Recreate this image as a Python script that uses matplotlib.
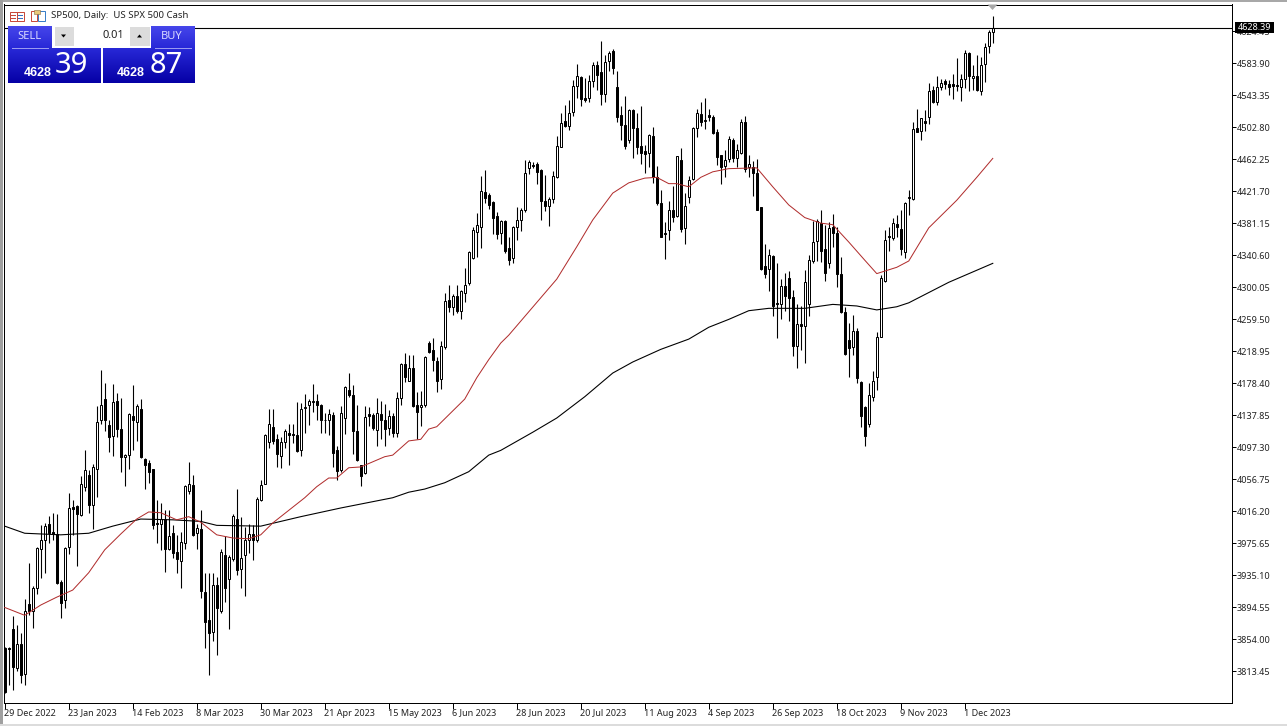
import matplotlib
matplotlib.use("Agg")
import matplotlib.pyplot as plt
from matplotlib.patches import Rectangle, Polygon
from matplotlib.transforms import ScaledTranslation
import numpy as np

# Daily candles
opens = [3843,3843,3867,3817,3848,3810,3898,3889,3918,3968,
         3979,4000,3990,3987,3926,3904,3970,4021,4023,4011,
         4046,4062,4024,4070,4131,4158,4125,4111,4155,4120,
         4084,4087,4137,4129,4146,4082,4077,4069,4001,4000,
         4006,3968,3988,3964,3953,3976,4042,4049,3988,3993,
         3913,3878,3863,3922,3890,3961,3930,3956,4006,3943,
         3961,3980,3987,3979,4030,4050,4103,4123,4107,4086,
         4104,4115,4114,4113,4093,4147,4151,4154,4156,4150,
         4132,4131,4138,4093,4068,4134,4170,4163,4118,4074,
         4064,4139,4138,4119,4139,4131,4121,4137,4115,4159,
         4203,4181,4198,4151,4148,4150,4229,4220,4206,4183,
         4224,4283,4275,4289,4270,4293,4305,4337,4370,4376,
         4421,4417,4408,4390,4369,4384,4350,4337,4376,4385,
         4397,4451,4455,4456,4448,4409,4403,4412,4439,4478,
         4510,4504,4522,4555,4566,4539,4540,4561,4581,4572,
         4545,4587,4599,4553,4518,4505,4486,4524,4501,4479,
         4472,4470,4492,4440,4407,4368,4372,4398,4390,4461,
         4375,4414,4437,4501,4519,4510,4518,4516,4496,4467,
         4453,4462,4486,4464,4470,4509,4452,4452,4445,4401,
         4327,4323,4339,4280,4279,4301,4312,4287,4225,4253,
         4251,4278,4333,4358,4381,4348,4330,4376,4368,4317,
         4268,4233,4224,4244,4180,4148,4127,4161,4186,4237,
         4308,4365,4362,4380,4374,4345,4413,4412,4501,4498,
         4510,4515,4550,4534,4553,4561,4557,4557,4556,4554,
         4563,4597,4565,4567,4549,4583,4606,4623]
closes = [3787,3841,3819,3848,3808,3890,3889,3918,3969,3980,
          3997,3988,3987,3925,3900,3969,4020,4019,4012,4051,
          4068,4024,4072,4129,4150,4131,4110,4154,4120,4085,
          4087,4139,4131,4149,4084,4075,4065,3999,4000,4006,
          3968,3985,3963,3956,3977,4048,4050,3986,3995,3915,
          3876,3862,3922,3893,3964,3918,3958,4010,3941,3957,
          3980,3987,3979,4031,4049,4112,4127,4105,4088,4104,
          4117,4113,4113,4092,4145,4148,4155,4156,4151,4132,
          4131,4139,4090,4067,4141,4173,4163,4118,4081,4060,
          4135,4137,4121,4140,4132,4120,4137,4115,4160,4203,
          4186,4198,4149,4142,4150,4211,4218,4207,4181,4225,
          4282,4275,4288,4270,4295,4302,4345,4372,4379,4422,
          4413,4404,4388,4367,4384,4346,4334,4376,4385,4397,
          4445,4458,4453,4446,4409,4403,4412,4441,4479,4508,
          4504,4521,4555,4568,4538,4537,4561,4581,4569,4544,
          4585,4596,4578,4515,4505,4479,4524,4501,4477,4470,
          4468,4493,4439,4406,4364,4367,4397,4389,4466,4374,
          4403,4436,4502,4520,4509,4512,4515,4495,4465,4452,
          4461,4487,4463,4473,4509,4450,4456,4445,4398,4323,
          4317,4340,4276,4279,4301,4288,4286,4225,4253,4251,
          4307,4334,4357,4384,4346,4318,4375,4369,4317,4268,
          4215,4223,4244,4185,4136,4111,4163,4181,4237,4312,
          4359,4363,4381,4376,4348,4407,4414,4500,4497,4514,
          4508,4548,4535,4554,4559,4557,4553,4555,4555,4564,
          4596,4567,4568,4550,4581,4604,4623,4628.39]
highs = [3844,3844,3883,3872,3861,3905,3950,3921,3971,3998,
         4001,4010,4014,4013,3929,3971,4039,4030,4024,4061,
         4094,4068,4076,4149,4195,4179,4131,4177,4166,4159,
         4089,4141,4176,4152,4158,4083,4081,4070,4030,4026,
         4018,4017,3998,3986,3989,4049,4078,4062,4000,4017,
         3937,3938,3937,3932,3968,3984,3960,4013,4044,4009,
         3996,4000,3998,4034,4055,4114,4145,4145,4114,4110,
         4120,4127,4127,4154,4153,4165,4158,4177,4165,4152,
         4141,4145,4142,4098,4149,4175,4191,4176,4151,4075,
         4149,4148,4141,4160,4156,4152,4144,4140,4167,4204,
         4216,4214,4214,4167,4168,4213,4232,4236,4211,4232,
         4292,4303,4291,4303,4296,4324,4346,4376,4394,4441,
         4448,4419,4409,4395,4385,4385,4363,4377,4402,4400,
         4461,4461,4458,4458,4449,4442,4414,4447,4492,4520,
         4531,4537,4562,4583,4567,4565,4569,4585,4587,4612,
         4594,4599,4601,4574,4529,4542,4526,4525,4520,4529,
         4480,4494,4503,4453,4423,4383,4409,4428,4466,4476,
         4419,4441,4503,4525,4534,4540,4526,4518,4500,4467,
         4474,4492,4489,4481,4513,4517,4467,4460,4462,4401,
         4355,4348,4340,4330,4310,4318,4320,4296,4279,4276,
         4322,4341,4384,4386,4397,4379,4383,4393,4376,4338,
         4275,4255,4265,4248,4181,4149,4178,4194,4243,4315,
         4372,4376,4387,4391,4397,4408,4423,4509,4526,4514,
         4524,4558,4555,4568,4563,4564,4562,4570,4590,4570,
         4600,4598,4581,4594,4591,4609,4626,4643]
lows = [3785,3796,3789,3813,3798,3796,3884,3868,3911,3931,
        3937,3976,3979,3924,3881,3893,3962,3986,3946,4010,
        4041,4014,3993,4034,4127,4118,4091,4086,4110,4066,
        4048,4069,4093,4105,4083,4044,4052,3994,3976,3967,
        3939,3967,3957,3938,3919,3968,4038,3985,3968,3906,
        3843,3808,3852,3834,3887,3901,3867,3953,3935,3919,
        3908,3963,3954,3977,4029,4050,4096,4101,4072,4071,
        4096,4074,4102,4091,4086,4115,4125,4142,4132,4115,
        4115,4112,4072,4055,4066,4114,4161,4089,4079,4048,
        4063,4124,4119,4099,4107,4099,4112,4110,4110,4150,
        4180,4181,4148,4107,4124,4148,4217,4194,4167,4171,
        4222,4268,4264,4267,4259,4281,4303,4336,4338,4349,
        4406,4399,4367,4361,4355,4343,4328,4331,4360,4371,
        4395,4443,4451,4431,4385,4396,4377,4407,4438,4478,
        4503,4499,4517,4539,4530,4534,4535,4554,4550,4531,
        4535,4574,4570,4509,4486,4475,4483,4464,4469,4456,
        4444,4452,4432,4404,4363,4336,4360,4383,4389,4370,
        4355,4406,4436,4490,4504,4500,4511,4494,4454,4430,
        4439,4458,4458,4452,4469,4446,4439,4415,4397,4321,
        4311,4295,4263,4236,4260,4269,4257,4213,4198,4220,
        4204,4263,4330,4333,4332,4308,4324,4351,4300,4267,
        4214,4186,4214,4178,4123,4098,4123,4155,4170,4237,
        4306,4346,4360,4364,4341,4337,4391,4410,4496,4486,
        4498,4507,4533,4531,4550,4551,4543,4538,4548,4536,
        4552,4548,4550,4548,4543,4560,4597,4609]

# Moving averages, read at the bars where the curve bends
ma_red_bars = [0,5,9,13,17,21,25,29,33,36,39,43,46,49,53,57,61,64,67,75,78,81,83,86,89,95,97,
               101,104,106,108,115,118,121,124,126,138,143,147,152,156,160,163,166,168,171,
               174,177,181,188,192,196,200,204,207,211,215,218,223,226,231,238,243,247]
ma_red = [3894,3884,3897,3907,3916,3938,3967,3987,4006,4015,4014,4005,4009,4002,3986,3982,3981,3986,4001,
          4033,4047,4058,4058,4071,4072,4085,4087,4105,4107,4120,4123,4158,4185,4208,4229,4239,
          4310,4351,4385,4419,4432,4438,4439,4431,4431,4427,4439,4446,4450,4451,4427,4404,4388,
          4381,4379,4357,4334,4317,4325,4333,4375,4410,4439,4463]
ma_black_bars = [0,5,14,21,27,34,42,49,53,64,74,84,95,97,101,105,110,116,121,124,132,138,145,152,
                 157,164,171,176,181,186,191,200,207,213,218,223,226,236,247]
ma_black = [3997,3988,3986,3988,3997,4006,4005,4003,3998,3997,4009,4020,4031,4033,4040,4044,4052,4066,
            4087,4093,4116,4134,4161,4191,4205,4221,4234,4249,4259,4270,4273,4273,4278,4276,4271,
            4275,4280,4306,4330]

price_ticks = [4624.45,4583.90,4543.35,4502.80,4462.25,4421.70,4381.15,4340.60,4300.05,4259.50,4218.95,
               4178.40,4137.85,4097.30,4056.75,4016.20,3975.65,3935.10,3894.55,3854.00,3813.45]
date_labels = ["29 Dec 2022","23 Jan 2023","14 Feb 2023","8 Mar 2023","30 Mar 2023","21 Apr 2023",
               "15 May 2023","6 Jun 2023","28 Jun 2023","20 Jul 2023","11 Aug 2023","4 Sep 2023",
               "26 Sep 2023","18 Oct 2023","9 Nov 2023","1 Dec 2023"]
last_price = 4628.39

plt.rcParams['font.family'] = ['Noto Sans', 'DejaVu Sans']
W, H = 1287, 726
fig = plt.figure(figsize=(W/100, H/100), dpi=100)
px = 0.72  # one pixel, in points

# Main chart
ax = fig.add_axes([4/W, (H-703)/H, 1228/W, 698.5/H])
ax.set_xlim(-0.175, 306.8)
ax.set_ylim(3772.9, 4658)

bars = np.arange(len(opens))
o, c = np.array(opens), np.array(closes)
up = c >= o
ax.vlines(bars, lows, highs, color='k', lw=1.1*px, zorder=2)
ax.bar(bars, np.abs(c-o), bottom=np.minimum(o, c), width=0.5,
       color=np.where(up, 'white', 'black').tolist(), edgecolor='k', linewidth=px, zorder=3)
ax.plot(ma_black_bars, ma_black, color='k', lw=1.1*px, zorder=4)
ax.plot(ma_red_bars, ma_red, color='#b02c2c', lw=1.0*px, zorder=4)
ax.axhline(last_price, color='k', lw=1.1*px, zorder=5)

ax.yaxis.tick_right()
ax.set_yticks(price_ticks)
ax.set_yticklabels(["%.2f" % p for p in price_ticks])
ax.set_xticks(bars[::16])
ax.set_xticklabels(date_labels, ha='left')
ax.tick_params(axis='y', length=3, width=px, pad=0.4, labelsize=6.5, labelcolor='#222222')
ax.tick_params(axis='x', length=4, width=px, pad=0, labelsize=6.5, labelcolor='#222222')
for lab in ax.get_xticklabels():
    lab.set_transform(lab.get_transform() + ScaledTranslation(-1/100, 0, fig.dpi_scale_trans))
for lab in ax.get_yticklabels():
    lab.set_transform(lab.get_transform() + ScaledTranslation(0, 1/100*-1, fig.dpi_scale_trans))
for s in ax.spines.values():
    s.set_linewidth(px)

# Terminal window parts, in pixels
ov = fig.add_axes([0, 0, 1, 1], zorder=10)
ov.set_xlim(0, W)
ov.set_ylim(H, 0)
ov.axis('off')
ov.patch.set_alpha(0)

ov.add_patch(Rectangle((0, 0), W, 2, color='#a8a8a8', lw=0))
ov.add_patch(Rectangle((0, 0), 2.5, H, color='#a0a0a0', lw=0))
ov.add_patch(Rectangle((0, 724), W, 2, color='#dcdcdc', lw=0))
ov.add_patch(Polygon([(987.5, 4.5), (997.5, 4.5), (992.5, 10)], color='#a8a8a8', lw=0))

# Price label on the axis
ov.add_patch(Rectangle((1235, 22), 39, 11, color='k', lw=0))
ov.text(1254.5, 27.5, "%.2f" % last_price, color='white', fontsize=6.5, ha='center', va='center')

# Title and its two icons
ov.text(51, 15, "SP500, Daily:  US SPX 500 Cash", fontsize=6.9, va='center', color='#222222')
ov.add_patch(Rectangle((9.5, 11.5), 14, 9, fc='white', ec='#c84a3c', lw=px))
ov.plot([16.5, 16.5], [11.5, 20.5], color='#c84a3c', lw=px)
for yy in (14.5, 17.5):
    ov.plot([11, 15], [yy, yy], color='#c84a3c', lw=px)
    ov.plot([18, 22], [yy, yy], color='#3a6fc0', lw=px)
ov.add_patch(Rectangle((30.5, 11), 6.5, 10, fc='white', ec='#c84a3c', lw=px))
ov.add_patch(Rectangle((38, 11), 6.5, 10, fc='white', ec='#3a7fc8', lw=px))
ov.add_patch(Rectangle((34, 10), 6, 4, fc='#e8c87a', ec='#806030', lw=0.5*px))

# One click trading panel
grad = np.linspace(0, 1, 64).reshape(-1, 1)
def blue_box(x0, x1, y0, y1, top, bottom):
    rgb = np.array(top)*(1-grad[:, :, None]) + np.array(bottom)*grad[:, :, None]
    ov.imshow(rgb/255, extent=(x0, x1, y1, y0), aspect='auto', zorder=3)

blue_box(8, 52, 26, 48, (70, 70, 235), (40, 40, 215))
blue_box(151, 195, 26, 48, (70, 70, 235), (40, 40, 215))
blue_box(8, 101, 48, 83, (40, 40, 215), (5, 0, 165))
blue_box(103, 195, 48, 83, (40, 40, 215), (5, 0, 165))
ov.set_xlim(0, W)
ov.set_ylim(H, 0)
ov.plot([12, 48], [47.5, 47.5], color='#9a9af0', lw=px, zorder=4)
ov.plot([155, 191], [47.5, 47.5], color='#9a9af0', lw=px, zorder=4)

ov.add_patch(Rectangle((52, 26), 99, 22, color='white', lw=0, zorder=2))
ov.add_patch(Rectangle((54.5, 27), 19, 19, color='#dcdcdc', lw=0, zorder=4))
ov.add_patch(Rectangle((129.5, 27), 20, 19, color='#dcdcdc', lw=0, zorder=4))
ov.add_patch(Polygon([(61, 34.5), (66, 34.5), (63.5, 37.5)], color='k', lw=0, zorder=5))
ov.add_patch(Polygon([(137, 37.5), (142, 37.5), (139.5, 34.5)], color='k', lw=0, zorder=5))
ov.text(124, 36, "0.01", fontsize=8, ha='right', va='center', color='#222222', zorder=5)
ov.text(29.5, 36.5, "SELL", fontsize=8, ha='center', va='center', color='#d8d8ff', zorder=5)
ov.text(172, 36.5, "BUY", fontsize=8, ha='center', va='center', color='#d8d8ff', zorder=5)

ov.text(37.5, 72.5, "4628", fontsize=9, fontweight='bold', family='Liberation Sans', ha='center', va='center', color='white', zorder=5)
ov.text(71.5, 65.5, "39", fontsize=21, ha='center', va='center', color='white', zorder=5)
ov.text(131, 72.5, "4628", fontsize=9, fontweight='bold', family='Liberation Sans', ha='center', va='center', color='white', zorder=5)
ov.text(166, 65.5, "87", fontsize=21, ha='center', va='center', color='white', zorder=5)

fig.savefig("out.png", dpi=100)
